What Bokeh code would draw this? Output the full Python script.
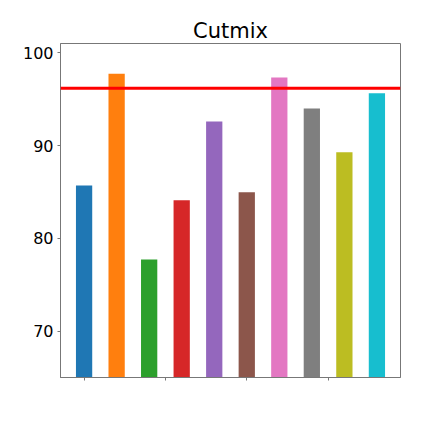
from bokeh.plotting import figure
from bokeh.models import Range1d, FixedTicker, Span, ColumnDataSource, Title
from bokeh.embed import file_html
from bokeh.resources import INLINE

positions = list(range(10))
values = [85.7, 97.73, 77.73, 84.1, 92.6, 84.96, 97.34, 93.99, 89.28, 95.64]
colors = ["#1f77b4", "#ff7f0e", "#2ca02c", "#d62728", "#9467bd",
          "#8c564b", "#e377c2", "#7f7f7f", "#bcbd22", "#17becf"]
baseline_value = 96.18
y_ticks = [70, 80, 90, 100]
x_ticks = [0, 2.5, 5, 7.5]
title_text = "Cutmix"

src = ColumnDataSource(dict(x=positions, top=values, color=colors))

p = figure(width=415, height=415, output_backend="svg", toolbar_location=None,
           x_range=Range1d(-0.725, 9.725), y_range=Range1d(65, 101),
           min_border_left=60, min_border_right=15, min_border_top=43,
           min_border_bottom=38)
p.add_layout(Title(text=title_text, align="center", text_font="DejaVu Sans",
                   text_font_size="21px", text_font_style="normal",
                   text_color="#000000", standoff=2), "above")

p.vbar(x="x", top="top", bottom=65, width=0.5, color="color", source=src,
       line_color=None)
p.add_layout(Span(location=baseline_value, dimension="width",
                  line_color="#ff0000", line_width=3))

p.grid.visible = False
p.outline_line_color = "#777777"
p.outline_line_width = 1

for ax in (p.xaxis[0], p.yaxis[0]):
    ax.axis_line_color = "#777777"
    ax.major_tick_line_color = "#777777"
    ax.major_tick_out = 3
    ax.major_tick_in = 0
    ax.minor_tick_line_color = None

p.yaxis.ticker = FixedTicker(ticks=y_ticks)
p.yaxis.major_label_text_font = "DejaVu Sans"
p.yaxis.major_label_text_font_size = "16px"
p.yaxis.major_label_text_color = "#000000"
p.yaxis.major_label_standoff = 4

p.xaxis.ticker = FixedTicker(ticks=x_ticks)
p.xaxis.major_label_text_font_size = "0px"
p.xaxis.major_label_overrides = {t: "" for t in x_ticks}

open("out.html", "w").write(file_html(p, INLINE))
